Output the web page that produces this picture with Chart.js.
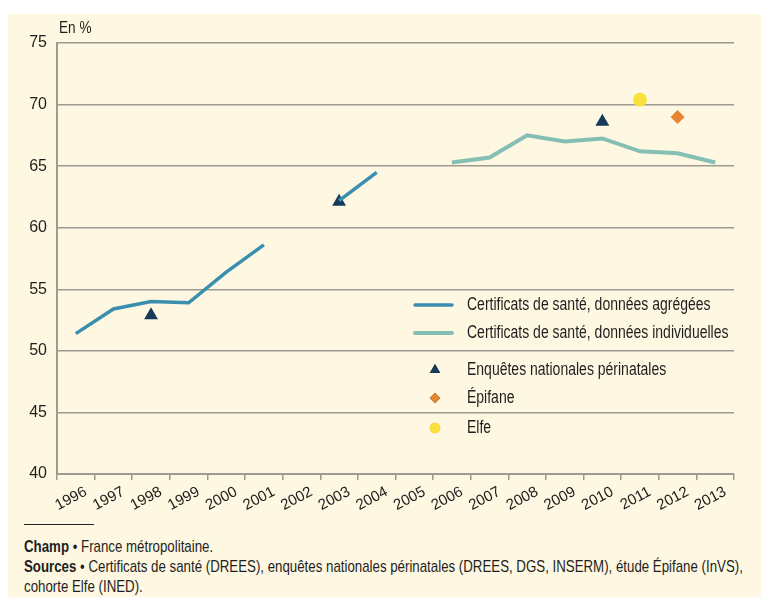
<!DOCTYPE html>
<html>
<head>
<meta charset="utf-8">
<script src="https://cdn.jsdelivr.net/npm/chart.js@4/dist/chart.umd.min.js"></script>
<style>
  body { margin: 0; background: #fff; width: 761px; height: 597px; overflow: hidden; }
  #panel { position: absolute; left: 8px; top: 14px; width: 753px; height: 583px; background: #fef7e1; }
  #chart { position: absolute; left: 0; top: 0; }
  .narrow { font-family: "Liberation Sans", Arial, sans-serif; color: #1e1e1e; }
  #rule { position: absolute; left: 16px; top: 510px; width: 70px; height: 0; border-top: 1.5px solid #222; }
  #notes { position: absolute; left: 16px; top: 523px; font-size: 16.6px; line-height: 20px; white-space: nowrap;
    transform: scaleX(0.8); transform-origin: 0 0; }
  #notes b { font-weight: bold; }
</style>
</head>
<body>
<div id="panel">
  <canvas id="chart" width="753" height="510"></canvas>
  <div id="rule"></div>
  <div id="notes" class="narrow">
    <div><b>Champ</b> • France métropolitaine.</div>
    <div><b>Sources</b> • Certificats de santé (DREES), enquêtes nationales périnatales (DREES, DGS, INSERM), étude Épifane (InVS),</div>
    <div>cohorte Elfe (INED).</div>
  </div>
</div>
<script>
// Données
const years = ['1996', '1997', '1998', '1999', '2000', '2001', '2002', '2003', '2004',
  '2005', '2006', '2007', '2008', '2009', '2010', '2011', '2012', '2013'];
const agregees = [51.4, 53.4, 54.0, 53.9, 56.4, 58.6, null, 62.2, 64.5,
  null, null, null, null, null, null, null, null, null];
const individuelles = [null, null, null, null, null, null, null, null, null,
  null, 65.3, 65.7, 67.5, 67.0, 67.25, 66.2, 66.05, 65.3];
const enquetes = [null, null, 52.9, null, null, null, null, 62.1, null,
  null, null, null, null, null, 68.6, null, null, null];
const epifane = [null, null, null, null, null, null, null, null, null,
  null, null, null, null, null, null, null, 69.0, null];
const elfe = [null, null, null, null, null, null, null, null, null,
  null, null, null, null, null, null, 70.4, null, null];
const yTicks = [40, 45, 50, 55, 60, 65, 70, 75];

const FONT = '"Liberation Sans", Arial, sans-serif';
const GRID = '#9e9a92';

// legende dessinee dans la zone du graphique
const legendPlugin = {
  id: 'customLegend',
  afterDraw(chart) {
    const ctx = chart.ctx;
    const a = chart.chartArea;
    const x0 = a.left + 358;
    const rows = [262, 290, 327, 355, 385];
    ctx.save();
    ctx.textBaseline = 'middle';
    chart.data.datasets.forEach((ds, i) => {
      const y = a.top + rows[i];
      if (ds.showLine !== false) {
        ctx.strokeStyle = ds.borderColor;
        ctx.lineWidth = ds.borderWidth;
        ctx.lineCap = 'round';
        ctx.beginPath();
        ctx.moveTo(x0, y);
        ctx.lineTo(x0 + 37, y);
        ctx.stroke();
      } else {
        Chart.helpers.drawPoint(ctx, {
          pointStyle: ds.pointStyle,
          radius: ds.pointRadius * 0.75,
          rotation: 0,
          borderWidth: 0
        }, x0 + 20, y);
        ctx.fillStyle = ds.backgroundColor;
        ctx.fill();
      }
      // texte condense
      ctx.save();
      ctx.translate(x0 + 52, y);
      ctx.scale(0.8, 1);
      ctx.font = '17.5px ' + FONT;
      ctx.fillStyle = '#1e1e1e';
      ctx.fillText(ds.label, 0, 0);
      ctx.restore();
    });
    // titre de l'axe
    ctx.save();
    ctx.translate(a.left + 2, a.top - 10);
    ctx.scale(0.85, 1);
    ctx.font = '16px ' + FONT;
    ctx.fillStyle = '#1e1e1e';
    ctx.textBaseline = 'alphabetic';
    ctx.fillText('En %', 0, 0);
    ctx.restore();
    ctx.restore();
  }
};

new Chart(document.getElementById('chart').getContext('2d'), {
  type: 'line',
  data: {
    labels: years,
    datasets: [
      {
        label: 'Certificats de santé, données agrégées',
        data: agregees,
        borderColor: '#3a8fb1',
        borderWidth: 3.5,
        pointRadius: 0,
        spanGaps: false
      },
      {
        label: 'Certificats de santé, données individuelles',
        data: individuelles,
        borderColor: '#85bfb3',
        borderWidth: 4,
        pointRadius: 0,
        spanGaps: false
      },
      {
        label: 'Enquêtes nationales périnatales',
        data: enquetes,
        showLine: false,
        pointStyle: 'triangle',
        pointRadius: 8,
        backgroundColor: '#173a5a',
        borderWidth: 0
      },
      {
        label: 'Épifane',
        data: epifane,
        showLine: false,
        pointStyle: 'rectRot',
        pointRadius: 7,
        backgroundColor: '#e8862f',
        borderWidth: 0
      },
      {
        label: 'Elfe',
        data: elfe,
        showLine: false,
        pointStyle: 'circle',
        pointRadius: 7,
        backgroundColor: '#f8e13a',
        borderWidth: 0
      }
    ]
  },
  options: {
    responsive: false,
    animation: false,
    layout: { padding: { top: 29, right: 27, left: 0, bottom: 0 } },
    plugins: {
      legend: { display: false },
      tooltip: { enabled: false }
    },
    scales: {
      x: {
        offset: true,
        afterFit(scale) { scale.height = 50; },
        grid: { offset: true, drawOnChartArea: false, color: GRID, lineWidth: 1.5, tickLength: 6 },
        border: { color: GRID, width: 2 },
        ticks: {
          color: '#1e1e1e',
          font: { family: FONT, size: 15 },
          minRotation: 28,
          maxRotation: 28,
          autoSkip: false,
          labelOffset: 10,
          padding: 3
        }
      },
      y: {
        min: 40,
        max: 75,
        afterFit(scale) { scale.width = 49; },
        afterBuildTicks(scale) { scale.ticks = yTicks.map(v => ({ value: v })); },
        grid: { color: GRID, lineWidth: 1.5, drawTicks: false },
        border: { color: GRID, width: 2 },
        ticks: {
          color: '#1e1e1e',
          font: { family: FONT, size: 16 },
          padding: 10
        }
      }
    }
  },
  plugins: [legendPlugin]
});
</script>
</body>
</html>
